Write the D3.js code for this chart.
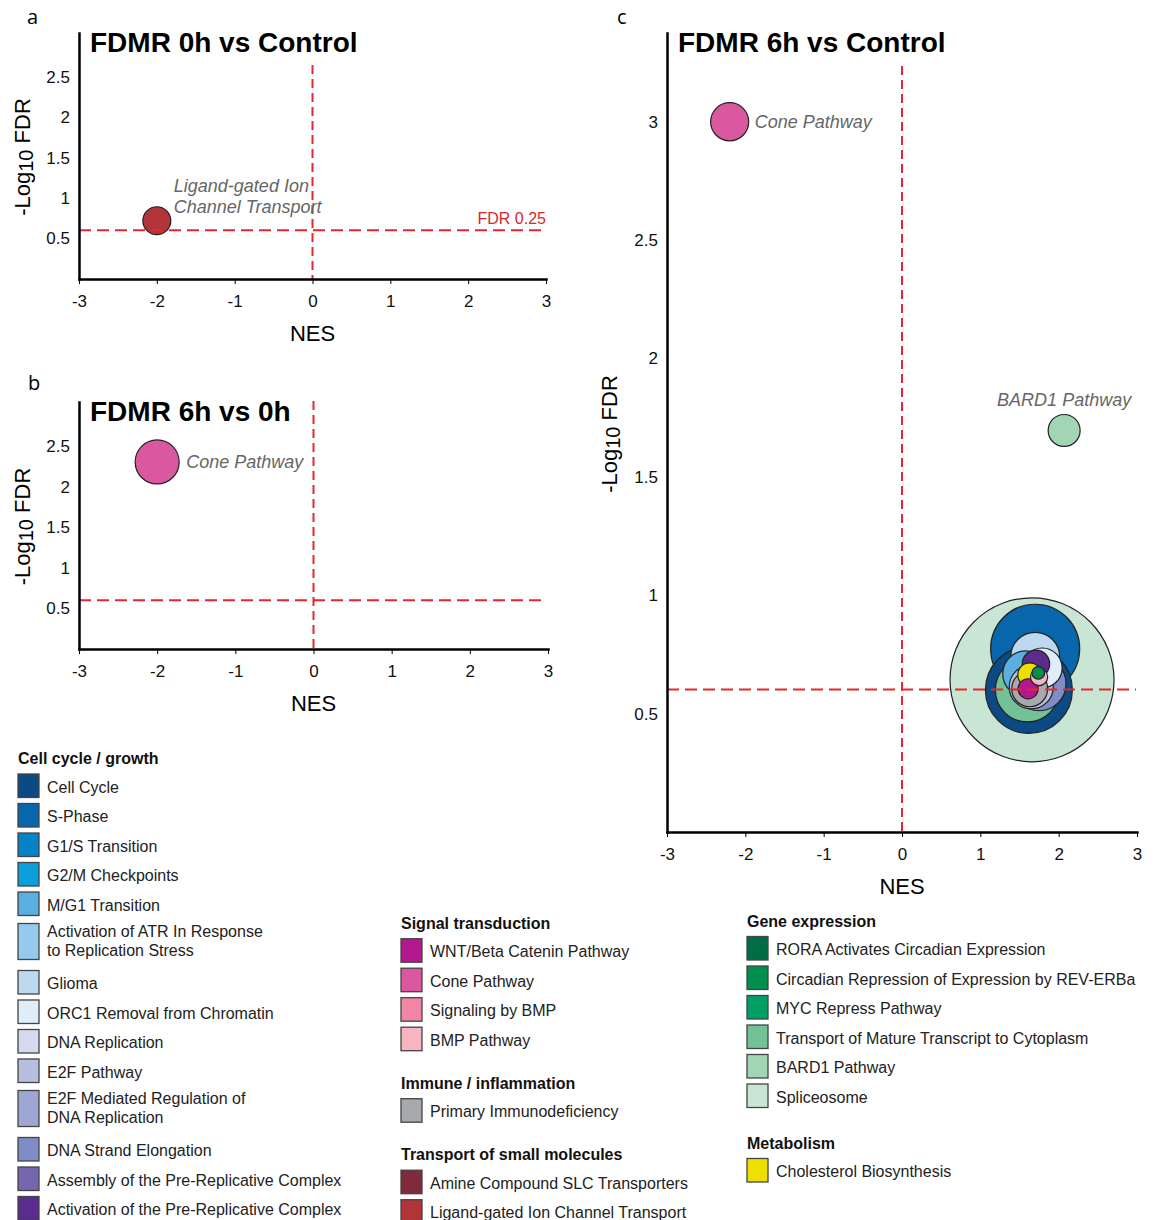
<!DOCTYPE html>
<html>
<head>
<meta charset="utf-8">
<script src="https://cdn.jsdelivr.net/npm/d3@7"></script>
<style>
  body { margin: 0; background: #fff; }
  svg text { font-family: "Liberation Sans", Arial, sans-serif; }
</style>
</head>
<body>
<div id="chart"></div>
<script>
"use strict";

// ---- legend: pathway names, category and colour ----
const pathwayNames = [
  "Cell Cycle", "S-Phase", "G1/S Transition", "G2/M Checkpoints", "M/G1 Transition",
  "Activation of ATR In Response\nto Replication Stress", "Glioma", "ORC1 Removal from Chromatin",
  "DNA Replication", "E2F Pathway", "E2F Mediated Regulation of\nDNA Replication",
  "DNA Strand Elongation", "Assembly of the Pre-Replicative Complex", "Activation of the Pre-Replicative Complex",
  "WNT/Beta Catenin Pathway", "Cone Pathway", "Signaling by BMP", "BMP Pathway",
  "Primary Immunodeficiency",
  "Amine Compound SLC Transporters", "Ligand-gated Ion Channel Transport",
  "RORA Activates Circadian Expression", "Circadian Repression of Expression by REV-ERBa",
  "MYC Repress Pathway", "Transport of Mature Transcript to Cytoplasm", "BARD1 Pathway", "Spliceosome",
  "Cholesterol Biosynthesis"
];
const pathwayGroups = [
  0, 0, 0, 0, 0, 0, 0, 0, 0, 0, 0, 0, 0, 0,
  1, 1, 1, 1,
  2,
  3, 3,
  4, 4, 4, 4, 4, 4,
  5
];
const pathwayColors = [
  "#0b4a84", "#0766ac", "#0582c8", "#0b9fdb", "#5aaee0",
  "#96c9ec", "#bcd9ef", "#deedf8",
  "#d5daee", "#b6bfe0", "#9ea7d3",
  "#7f8dc6", "#7567ad", "#5b2c8d",
  "#b2198e", "#d9589f", "#f386a4", "#f8b4c0",
  "#a7a9ac",
  "#7f2b3b", "#b03438",
  "#006d45", "#008f4f", "#00a064", "#73c297", "#a1d5b3", "#c8e6d3",
  "#ede000"
];
const groupTitles = ["Cell cycle / growth", "Signal transduction", "Immune / inflammation",
  "Transport of small molecules", "Gene expression", "Metabolism"];
const groupColumn = [0, 1, 1, 1, 2, 2];

// ---- panel a: FDMR 0h vs Control ----
const aPathway = ["Ligand-gated Ion Channel Transport"];
const aNES = [-2.0];
const aLogFDR = [0.72];
const aSize = [2.9];
const aLabel = ["Ligand-gated Ion\nChannel Transport"];

// ---- panel b: FDMR 6h vs 0h ----
const bPathway = ["Cone Pathway"];
const bNES = [-2.0];
const bLogFDR = [2.31];
const bSize = [7.2];
const bLabel = ["Cone Pathway"];

// ---- panel c: FDMR 6h vs Control ----
const cPathway = [
  "Spliceosome", "S-Phase", "Cell Cycle", "Transport of Mature Transcript to Cytoplasm",
  "DNA Strand Elongation", "Glioma", "M/G1 Transition", "E2F Pathway",
  "ORC1 Removal from Chromatin", "Primary Immunodeficiency", "Activation of the Pre-Replicative Complex",
  "Cholesterol Biosynthesis", "WNT/Beta Catenin Pathway", "BMP Pathway",
  "Circadian Repression of Expression by REV-ERBa", "BARD1 Pathway", "Cone Pathway"
];
const cNES =    [1.66, 1.70, 1.62, 1.60, 1.75, 1.70, 1.58, 1.65, 1.79, 1.63, 1.71, 1.63, 1.61, 1.75, 1.74, 2.07, -2.20];
const cLogFDR = [0.643, 0.774, 0.600, 0.600, 0.626, 0.740, 0.668, 0.613, 0.693, 0.605, 0.710, 0.664, 0.605, 0.655, 0.672, 1.696, 3.00];
const cSize =   [100, 29.5, 28.1, 15.2, 10.8, 8.9, 7.9, 7.2, 5.9, 4.8, 2.8, 2.1, 1.5, 1.1, 0.6, 3.8, 5.4];
const cLabel = [null, null, null, null, null, null, null, null, null, null, null, null, null, null, null,
  "BARD1 Pathway", "Cone Pathway"];

const xTicks = [-3, -2, -1, 0, 1, 2, 3];
const yTicksAB = [0.5, 1, 1.5, 2, 2.5];
const yTicksC = [0.5, 1, 1.5, 2, 2.5, 3];
const fdrCutoff = 0.25;

// ---- layout ----
const W = 1154, H = 1220;
const panelLayout = {
  a: { title: "FDMR 0h vs Control", letter: "a", letterX: 27, letterY: 24, x0: 79, x1: 546,
       yTop: 33, yBottom: 279, yMax: 3.04, yTicks: yTicksAB, vTop: 65, titleY: 52, nesY: 341, yLabX: 30,
       fdrText: true },
  b: { title: "FDMR 6h vs 0h", letter: "b", letterX: 28, letterY: 390, x0: 79, x1: 548,
       yTop: 402, yBottom: 649, yMax: 3.05, yTicks: yTicksAB, vTop: 401, titleY: 421, nesY: 711, yLabX: 30,
       fdrText: false },
  c: { title: "FDMR 6h vs Control", letter: "c", letterX: 617, letterY: 24, x0: 667, x1: 1137,
       yTop: 33, yBottom: 832, yMax: 3.375, yTicks: yTicksC, vTop: 66, titleY: 52, nesY: 894, yLabX: 617,
       fdrText: false }
};
// where each label sits relative to its bubble
const labelPlace = {
  "a|Ligand-gated Ion Channel Transport": { side: "right", gap: 3, dy: -29 },
  "b|Cone Pathway": { side: "right", gap: 7, dy: 6 },
  "c|Cone Pathway": { side: "right", gap: 6, dy: 6 },
  "c|BARD1 Pathway": { side: "above", gap: 9 }
};

const keyOf = (n) => n.replace("\n", " ");
const color = d3.scaleOrdinal().domain(pathwayNames.map(keyOf)).range(pathwayColors);
const rScale = d3.scaleSqrt().domain([0, 100]).range([0, 82]);

const svg = d3.select("#chart").append("svg")
  .attr("width", W).attr("height", H);

drawPanel(panelLayout.a, aPathway, aNES, aLogFDR, aSize, aLabel, "a");
drawPanel(panelLayout.b, bPathway, bNES, bLogFDR, bSize, bLabel, "b");
drawPanel(panelLayout.c, cPathway, cNES, cLogFDR, cSize, cLabel, "c");
drawLegend();

function drawPanel(p, pathway, nes, logFdr, size, labels, id) {
  const g = svg.append("g");
  const x = d3.scaleLinear().domain([-3, 3]).range([p.x0, p.x1]);
  const y = d3.scaleLinear().domain([0, p.yMax]).range([p.yBottom, p.yTop]);

  const rows = pathway.map((name, i) => ({
    name: name, nes: nes[i], fdr: logFdr[i], size: size[i], label: labels[i]
  }));
  rows.sort((m, n) => n.size - m.size);

  // bubbles, largest first
  g.selectAll("circle.bubble")
    .data(rows)
    .enter()
    .append("circle")
      .attr("class", "bubble")
      .attr("cx", (d) => x(d.nes))
      .attr("cy", (d) => y(d.fdr))
      .attr("r", (d) => rScale(d.size))
      .attr("fill", (d) => color(d.name))
      .attr("stroke", "#222")
      .attr("stroke-width", 1.2);

  // threshold lines
  const yCut = y(-Math.log10(fdrCutoff));
  g.append("line")
    .attr("x1", p.x0).attr("x2", p.x1 - 1)
    .attr("y1", yCut).attr("y2", yCut)
    .attr("stroke", "#e8262b").attr("stroke-width", 2)
    .attr("stroke-dasharray", "12,6");
  g.append("line")
    .attr("x1", x(0)).attr("x2", x(0))
    .attr("y1", p.vTop).attr("y2", p.yBottom)
    .attr("stroke", "#e8262b").attr("stroke-width", 2)
    .attr("stroke-dasharray", "9,5");

  if (p.fdrText) {
    g.append("text")
      .attr("x", p.x1).attr("y", yCut - 6)
      .attr("text-anchor", "end")
      .attr("fill", "#d7262e")
      .style("font-size", "16px")
      .text("FDR " + fdrCutoff);
  }

  // point labels
  rows.filter((d) => d.label).forEach((d) => {
    const pl = labelPlace[id + "|" + d.name];
    const cx = x(d.nes), cy = y(d.fdr), r = rScale(d.size);
    const lines = d.label.split("\n");
    const t = g.append("text")
      .attr("fill", "#666")
      .style("font-size", "18px")
      .style("font-style", "italic");
    if (pl.side === "right") {
      t.attr("text-anchor", "start");
      lines.forEach((ln, k) => {
        t.append("tspan").attr("x", cx + r + pl.gap).attr("y", cy + pl.dy + k * 21).text(ln);
      });
    } else {
      t.attr("text-anchor", "middle")
        .attr("x", cx).attr("y", cy - r - pl.gap).text(lines[0]);
    }
  });

  // axes
  const xAxis = d3.axisBottom(x)
    .tickValues(xTicks).tickSize(5).tickSizeOuter(0).tickPadding(11)
    .tickFormat((d) => String(d));
  g.append("g")
    .attr("transform", "translate(0," + p.yBottom + ")")
    .call(xAxis)
    .attr("font-family", null).attr("font-size", null)
    .call((s) => s.select(".domain").attr("stroke-width", 2.5).attr("stroke-linecap", "square"))
    .call((s) => s.selectAll(".tick line").attr("stroke-width", 1))
    .call((s) => s.selectAll(".tick text").style("font-size", "17px").attr("fill", "#111"));

  const yAxis = d3.axisLeft(y)
    .tickValues(p.yTicks).tickSize(0).tickSizeOuter(0).tickPadding(9)
    .tickFormat((d) => String(d));
  g.append("g")
    .attr("transform", "translate(" + p.x0 + ",0)")
    .call(yAxis)
    .attr("font-family", null).attr("font-size", null)
    .call((s) => s.select(".domain").attr("stroke-width", 2.5).attr("stroke-linecap", "square"))
    .call((s) => s.selectAll(".tick text").style("font-size", "17px").attr("fill", "#111"));

  // titles and axis labels
  g.append("text")
    .attr("x", p.x0 + 11).attr("y", p.titleY)
    .style("font-size", "28px").style("font-weight", "bold")
    .text(p.title);

  g.append("text")
    .attr("x", p.letterX).attr("y", p.letterY)
    .style("font-size", "20px").style("font-family", "'Open Sans', sans-serif")
    .text(p.letter);

  g.append("text")
    .attr("x", x(0)).attr("y", p.nesY)
    .attr("text-anchor", "middle")
    .style("font-size", "22px")
    .text("NES");

  const yMid = (p.yTop + p.yBottom) / 2;
  const yl = g.append("text")
    .attr("transform", "translate(" + p.yLabX + "," + (id === "c" ? 434 : yMid + 1) + ")rotate(-90)")
    .attr("text-anchor", "middle")
    .style("font-size", "22px");
  yl.append("tspan").text("-Log");
  yl.append("tspan").attr("dy", 3).style("font-size", "20px").text("10");
  yl.append("tspan").attr("dy", -3).text(" FDR");
}

function drawLegend() {
  const colX = [18, 401, 747];
  const colStart = [758, 922.7, 920.5];
  const colGap = [26, 26, 29];
  const swW = 21, swH = 23.5, swH2 = 36;
  const g = svg.append("g");

  [0, 1, 2].forEach((c) => {
    let yy = colStart[c];
    groupTitles.forEach((title, gi) => {
      if (groupColumn[gi] !== c) return;
      g.append("text")
        .attr("x", colX[c]).attr("y", yy + 6)
        .style("font-size", "16px").style("font-weight", "bold").attr("fill", "#111")
        .text(title);
      yy += 16;
      pathwayNames.forEach((name, i) => {
        if (pathwayGroups[i] !== gi) return;
        const lines = name.split("\n");
        const two = lines.length > 1;
        if (two) yy += 2;
        const h = two ? swH2 : swH;
        g.append("rect")
          .attr("x", colX[c]).attr("y", yy)
          .attr("width", swW).attr("height", h)
          .attr("fill", pathwayColors[i])
          .attr("stroke", "#444").attr("stroke-width", 1.3);
        const t = g.append("text").style("font-size", "16px").attr("fill", "#222");
        if (two) {
          t.append("tspan").attr("x", colX[c] + 29).attr("y", yy + h / 2 - 5).text(lines[0]);
          t.append("tspan").attr("x", colX[c] + 29).attr("y", yy + h / 2 + 14).text(lines[1]);
        } else {
          t.attr("x", colX[c] + 29).attr("y", yy + h / 2 + 7).text(name);
        }
        yy += h + 6 + (two ? 5 : 0);
      });
      yy += colGap[c];
    });
  });
}
</script>
</body>
</html>
